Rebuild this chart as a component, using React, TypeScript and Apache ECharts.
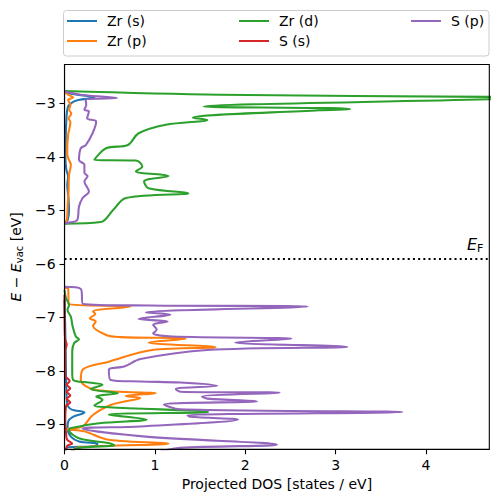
import React, { useEffect, useRef } from "react";
import * as echarts from "echarts";

// ---- data: [DOS (states/eV), E - E_vac (eV)] ----
const zrS_upper: [number, number][] = [
  [0, -2.78], [0.07, -2.82], [0.33, -2.89], [0.15, -2.94], [0.07, -3.0], [0.035, -3.08],
  [0.02, -3.31], [0.013, -3.68], [0.01, -4.06], [0.02, -4.24], [0.04, -4.37], [0.03, -4.52],
  [0.045, -4.8], [0.05, -4.99], [0.035, -5.18], [0, -5.25],
];
const zrS_lower: [number, number][] = [
  [0, -6.67], [0.008, -7.23], [0.013, -7.79], [0.02, -8.36], [0.033, -8.64], [0.074, -8.72],
  [0.22, -8.78], [0.092, -8.86], [0.04, -8.95], [0.033, -9.07], [0.07, -9.23], [0.16, -9.32],
  [0.365, -9.36], [0.33, -9.41], [0.033, -9.43], [0.008, -9.51],
];

const zrP_upper: [number, number][] = [
  [0, -2.785], [0.04, -2.84], [0.095, -2.89], [0.04, -2.94], [0.065, -3.03], [0.05, -3.12],
  [0.075, -3.19], [0.045, -3.28], [0.065, -3.35], [0.04, -3.59], [0.03, -3.87], [0.035, -4.0],
  [0.07, -4.15], [0.05, -4.34], [0.045, -4.62], [0.035, -4.9], [0.025, -5.18], [0, -5.25],
];
const zrP_lower: [number, number][] = [
  [0, -6.45], [0.04, -6.47], [0.046, -6.75], [0.73, -6.8], [0.315, -6.89], [0.34, -6.94],
  [0.28, -7.02], [0.345, -7.08], [0.315, -7.16], [0.46, -7.33], [0.62, -7.37], [1.34, -7.4],
  [0.93, -7.47], [1.67, -7.56], [0.97, -7.61], [0.49, -7.83], [0.205, -7.97], [0.18, -8.17],
  [0.35, -8.36], [1.01, -8.42], [0.675, -8.47], [0.84, -8.51], [0.675, -8.57], [0.51, -8.64],
  [0.31, -8.83], [0.2, -9.04], [0.03, -9.09], [0.215, -9.13], [0.49, -9.29], [1.15, -9.36],
  [0.16, -9.43], [0.07, -9.51],
];

const zrD_upper: [number, number][] = [
  [0, -2.77], [1.72, -2.84], [4.69, -2.88], [5.4, -2.89], [4.69, -2.925], [1.54, -3.06],
  [2.93, -3.09], [3.16, -3.11], [2.82, -3.13], [1.42, -3.27], [1.58, -3.31], [1.12, -3.4],
  [0.82, -3.56], [0.7, -3.78], [0.46, -3.84], [0.33, -4.06], [0.79, -4.07], [0.86, -4.18],
  [0.79, -4.27], [1.15, -4.36], [0.88, -4.46], [0.93, -4.59], [1.37, -4.68], [0.68, -4.77],
  [0.54, -4.99], [0.4, -5.22], [0, -5.25],
];
const zrD_lower: [number, number][] = [
  [0, -6.49], [0.015, -6.64], [0.05, -6.77], [0.033, -6.86], [0.07, -6.99], [0.09, -7.17],
  [0.125, -7.36], [0.16, -7.41], [0.107, -7.48], [0.085, -7.64], [0.085, -8.04], [0.096, -8.17],
  [0.27, -8.22], [0.42, -8.26], [0.29, -8.34], [0.59, -8.42], [0.35, -8.48], [0.42, -8.54],
  [0.33, -8.65], [0.49, -8.68], [1.59, -8.77], [0.49, -8.82], [0.91, -8.91], [0.385, -8.98],
  [0.074, -9.07], [0.05, -9.1], [0.16, -9.26], [0.49, -9.35], [0.55, -9.39], [0.16, -9.44],
  [0.07, -9.51],
];

const sS_lower: [number, number][] = [
  [0, -6.58], [0.002, -7.23], [0.008, -7.42], [0.024, -7.51], [0.008, -7.61], [0.008, -8.09],
  [0.057, -8.19], [0.024, -8.26], [0.063, -8.33], [0.024, -8.39], [0.063, -8.46], [0.024, -8.52],
  [0.063, -8.59], [0.019, -8.65], [0.008, -8.91], [0.019, -9.21], [0.03, -9.29], [0.085, -9.36],
  [0.03, -9.4], [0.019, -9.46], [0.008, -9.51],
];

const sP_upper: [number, number][] = [
  [0, -2.78], [0.22, -2.85], [0.58, -2.9], [0.235, -2.94], [0.24, -3.03], [0.22, -3.12],
  [0.27, -3.15], [0.25, -3.28], [0.35, -3.34], [0.31, -3.56], [0.235, -3.78], [0.18, -3.84],
  [0.16, -4.06], [0.22, -4.15], [0.22, -4.3], [0.255, -4.36], [0.22, -4.46], [0.27, -4.65],
  [0.2, -4.77], [0.16, -4.93], [0.14, -5.18], [0.015, -5.24], [0, -5.25],
];
const sP_lower: [number, number][] = [
  [0, -6.43], [0.18, -6.47], [0.205, -6.75], [0.95, -6.78], [2.69, -6.8], [0.9, -6.91],
  [1.17, -6.95], [0.82, -7.03], [1.14, -7.08], [0.98, -7.14], [1.02, -7.23], [0.98, -7.3],
  [1.19, -7.36], [2.51, -7.4], [1.89, -7.47], [3.13, -7.55], [1.58, -7.61], [0.84, -7.78],
  [0.66, -7.92], [0.49, -7.98], [0.51, -8.17], [0.84, -8.2], [1.28, -8.22], [1.69, -8.28],
  [1.23, -8.34], [1.28, -8.39], [2.38, -8.41], [1.52, -8.48], [1.58, -8.52], [2.13, -8.57],
  [1.1, -8.63], [1.28, -8.72], [3.74, -8.77], [1.36, -8.83], [1.39, -8.86], [1.92, -8.91],
  [0.84, -9.04], [0.2, -9.08], [0.9, -9.23], [2.35, -9.38], [1.28, -9.44], [1.06, -9.51],
];

const E_FERMI = -5.9;
const X_MIN = 0;
const X_MAX = 4.7;
const Y_MIN = -9.467;
const Y_MAX = -2.275;
const X_TICKS = [0, 1, 2, 3, 4];
const Y_TICKS = [-9, -8, -7, -6, -5, -4, -3];

const SERIES_NAMES = ["Zr (s)", "Zr (p)", "Zr (d)", "S (s)", "S (p)"];
const COLORS = ["#1f77b4", "#ff7f0e", "#2ca02c", "#d62728", "#9467bd"];

const FONT = "DejaVu Sans";

function join(a: [number, number][], b: [number, number][]) {
  return [...a, [null, null], ...b];
}

export default function App() {
  const ref = useRef<HTMLDivElement>(null);
  useEffect(() => {
    if (!ref.current) return;
    const chart = echarts.init(ref.current, undefined, { renderer: "svg" });
    const bands = [
      join(zrS_upper, zrS_lower),
      join(zrP_upper, zrP_lower),
      join(zrD_upper, zrD_lower),
      sS_lower,
      join(sP_upper, sP_lower),
    ];
    const series: any[] = SERIES_NAMES.map((name, i) => ({
      name,
      type: "line",
      data: bands[i],
      symbol: "none",
      showSymbol: false,
      connectNulls: false,
      smooth: 0.35,
      clip: true,
      color: COLORS[i],
      lineStyle: { color: COLORS[i], width: 2.08, join: "round" },
      z: 2 + i,
    }));
    series[4].markLine = {
      silent: true,
      symbol: "none",
      animation: false,
      lineStyle: { color: "#000", width: 2, type: [2, 3.2] },
      data: [{ yAxis: E_FERMI }],
      label: {
        show: true,
        position: "insideEndTop",
        distance: [6, 4],
        formatter: "{i|E}{s|F}",
        rich: {
          i: { fontStyle: "italic", fontSize: 16, fontFamily: FONT, color: "#000", lineHeight: 19 },
          s: { fontSize: 11, fontFamily: FONT, color: "#000", lineHeight: 13, verticalAlign: "bottom" },
        },
      },
    };
    const legendRows = [
      { name: "Zr (s)", left: 67, top: 14 },
      { name: "Zr (p)", left: 67, top: 34 },
      { name: "Zr (d)", left: 239, top: 14 },
      { name: "S (s)", left: 239, top: 34 },
      { name: "S (p)", left: 411, top: 14 },
    ];
    const legend = legendRows.map((r) => ({
      data: [r.name],
      left: r.left,
      top: r.top,
      padding: 0,
      icon: "rect",
      itemWidth: 30,
      itemHeight: 2,
      selectedMode: false,
      textStyle: { fontSize: 14, fontFamily: FONT, color: "#000", padding: [0, 0, 0, 5] },
    }));
    chart.setOption({
      animation: false,
      backgroundColor: "#fff",
      legend,
      graphic: [
        {
          type: "rect",
          shape: { x: 63.5, y: 10.5, width: 425.5, height: 45.5, r: 3 },
          style: { fill: "rgba(255,255,255,0.8)", stroke: "#cccccc", lineWidth: 1 },
          z: -1,
        },
      ],
      grid: {
        left: 63.3,
        right: 8.7,
        top: 64.5,
        bottom: 52.7,
        show: true,
        borderColor: "#000",
        borderWidth: 1.1,
        backgroundColor: "transparent",
        z: 10,
      },
      xAxis: {
        type: "value",
        min: X_MIN,
        max: X_MAX,
        z: 10,
        name: "Projected DOS [states / eV]",
        nameLocation: "middle",
        nameGap: 27,
        nameTextStyle: { fontSize: 14, fontFamily: FONT, color: "#000" },
        splitLine: { show: false },
        axisLine: { show: true, onZero: false, lineStyle: { color: "#000", width: 1.1 } },
        axisTick: { show: true, inside: false, length: 5, customValues: X_TICKS, lineStyle: { color: "#000", width: 1.1 } },
        axisLabel: {
          customValues: X_TICKS,
          margin: 9,
          fontSize: 14,
          fontFamily: FONT,
          color: "#000",
          formatter: (v: number) => String(v).replace("-", "\u2212"),
        },
      },
      yAxis: {
        type: "value",
        min: Y_MIN,
        max: Y_MAX,
        z: 10,
        name: "{i|E} \u2212 {i|E}{s|vac} [eV]",
        nameLocation: "middle",
        nameGap: 38,
        nameRotate: 90,
        nameTextStyle: {
          fontSize: 14,
          fontFamily: FONT,
          color: "#000",
          lineHeight: 16,
          rich: {
            i: { fontStyle: "italic", fontSize: 14, fontFamily: FONT, color: "#000", lineHeight: 16 },
            s: { fontSize: 10, fontFamily: FONT, color: "#000", lineHeight: 10, verticalAlign: "bottom" },
          },
        },
        splitLine: { show: false },
        axisLine: { show: true, onZero: false, lineStyle: { color: "#000", width: 1.1 } },
        axisTick: { show: true, inside: false, length: 5, customValues: Y_TICKS, lineStyle: { color: "#000", width: 1.1 } },
        axisLabel: {
          customValues: Y_TICKS,
          margin: 9,
          fontSize: 14,
          fontFamily: FONT,
          color: "#000",
          formatter: (v: number) => String(v).replace("-", "\u2212"),
        },
      },
      series,
    });
    return () => chart.dispose();
  }, []);
  return <div ref={ref} style={{ width: 498, height: 502, position: "absolute", left: 0, top: 0 }} />;
}
